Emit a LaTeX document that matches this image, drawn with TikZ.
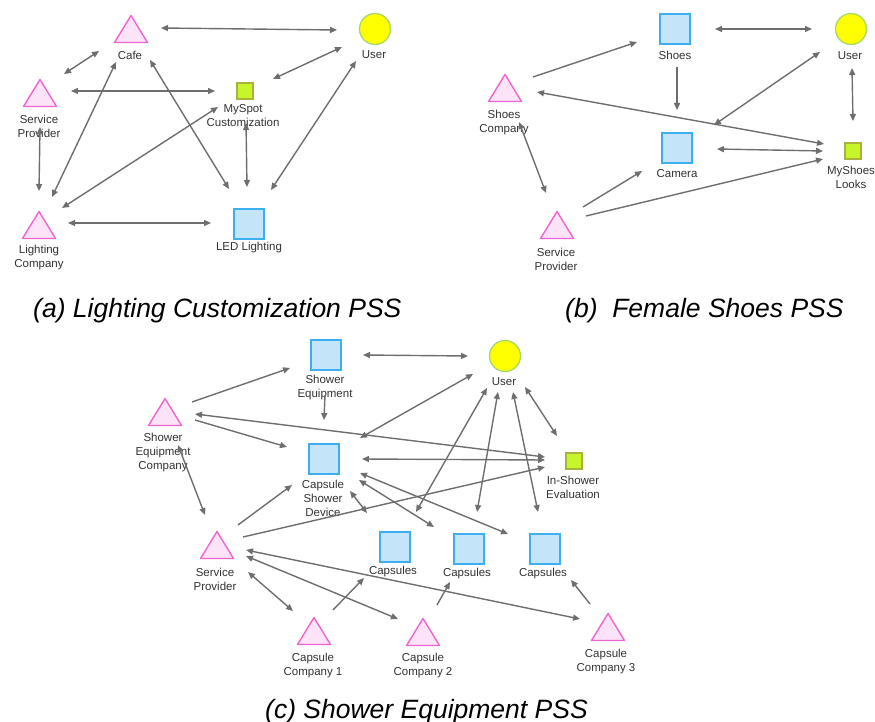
\documentclass[tikz,border=0pt]{standalone}
\usepackage{fontspec}
\setmainfont{Liberation Sans}
\usetikzlibrary{arrows.meta}

\definecolor{linkgray}{HTML}{6E6E6E}
\definecolor{labelgray}{HTML}{333333}
\definecolor{actorfill}{HTML}{FCE3F7}
\definecolor{actorline}{HTML}{F064D2}
\definecolor{prodfill}{HTML}{C4E4FA}
\definecolor{prodline}{HTML}{3DAEEF}
\definecolor{evalfill}{HTML}{C6F52A}
\definecolor{evalline}{HTML}{A9B23A}
\definecolor{userfill}{HTML}{FFFF00}
\definecolor{userline}{HTML}{A8D86A}

\tikzset{
  actor/.style={minimum width=35pt, minimum height=29pt, inner sep=0pt,
    path picture={\draw[draw=actorline, fill=actorfill, line width=1.4pt, line join=round]
      ([shift={(1pt,1pt)}]path picture bounding box.south west) --
      ([shift={(-1pt,1pt)}]path picture bounding box.south east) --
      ([yshift=-1pt]path picture bounding box.north) -- cycle;}},
  product/.style={rectangle, draw=prodline, fill=prodfill, line width=1.5pt,
    minimum size=30pt, inner sep=0pt},
  evalbox/.style={rectangle, draw=evalline, fill=evalfill, line width=1.3pt,
    minimum size=16pt, inner sep=0pt},
  userdot/.style={circle, draw=userline, fill=userfill, line width=1.3pt,
    minimum size=31pt, inner sep=0pt},
  lbl/.style={align=center, inner sep=0pt, text=labelgray,
    font=\fontsize{11.5}{14}\selectfont},
  caption/.style={anchor=base west, inner sep=0pt, text=black,
    font=\fontsize{26.5}{30}\selectfont\itshape},
  link/.style={draw=linkgray, line width=1.4pt,
    arrows={-Triangle[length=7pt,width=6pt]}},
  both/.style={link, arrows={Triangle[length=7pt,width=6pt]-Triangle[length=7pt,width=6pt]}},
}

\begin{document}
\begin{tikzpicture}[x=1pt, y=-1pt]
\useasboundingbox (0,0) rectangle (875,722);

% ---------- (a) Lighting Customization PSS ----------
\node[actor]   (aCafe) at (131,29) {};
\node[actor]   (aSP)   at (40,93)  {};
\node[actor]   (aLC)   at (39,225) {};
\node[evalbox] (aMy)   at (245,91) {};
\node[product] (aLED)  at (249,224) {};
\node[userdot] (aUser) at (375,29) {};

\node[lbl] (aCafeL) at (130,55)  {Cafe};
\node[lbl] (aSPL)   at (39,126)  {Service\\Provider};
\node[lbl] (aLCL)   at (39,258)  {Lighting\\Company};
\node[lbl] (aMyL)   at (243,116) {MySpot\\Customization};
\node[lbl] (aLEDL)  at (249,248) {LED Lighting};
\node[lbl] (aUserL) at (374,55)  {User};

\draw[both] ([shift={(30,-1)}]aCafe.center) -- ([shift={(-38,1)}]aUser.center);
\draw[both] ([shift={(-32,22)}]aCafe.center) -- ([shift={(24,-19)}]aSP.center);
\draw[both] ([shift={(31,-2)}]aSP.center) -- ([shift={(-30,0)}]aMy.center);
\draw[both] ([shift={(0,34)}]aSP.center) -- ([shift={(0,-34)}]aLC.center);
\draw[both] ([shift={(-15,33)}]aCafe.center) -- ([shift={(13,-28)}]aLC.center);
\draw[both] ([shift={(19,31)}]aCafe.center) -- ([shift={(-20,-35)}]aLED.center);
\draw[both] ([shift={(-27,16)}]aMy.center) -- ([shift={(23,-17)}]aLC.center);
\draw[both] ([shift={(1,32)}]aMy.center) -- ([shift={(-2,-37)}]aLED.center);
\draw[both] ([shift={(29,-2)}]aLC.center) -- ([shift={(-38,-1)}]aLED.center);
\draw[both] ([shift={(28,-12)}]aMy.center) -- ([shift={(-33,18)}]aUser.center);
\draw[both] ([shift={(22,-34)}]aLED.center) -- ([shift={(-19,32)}]aUser.center);

\node[caption] (aCap) at (33,317) {(a) Lighting Customization PSS};

% ---------- (b) Female Shoes PSS ----------
\node[product] (bShoes) at (675,29)  {};
\node[userdot] (bUser)  at (851,29)  {};
\node[actor]   (bSC)    at (505,88)  {};
\node[product] (bCam)   at (677,148) {};
\node[evalbox] (bMy)    at (853,151) {};
\node[actor]   (bSP)    at (557,225) {};

\node[lbl] (bShoesL) at (675,55)  {Shoes};
\node[lbl] (bUserL)  at (850,56)  {User};
\node[lbl] (bSCL)    at (504,123) {Shoes\\Company};
\node[lbl] (bCamL)   at (677,174) {Camera};
\node[lbl] (bMyL)    at (851,177) {MyShoes\\Looks};
\node[lbl] (bSPL)    at (556,259) {Service\\Provider};

\draw[link] ([shift={(28,-11)}]bSC.center) -- ([shift={(-38,13)}]bShoes.center);
\draw[both] ([shift={(40,0)}]bShoes.center) -- ([shift={(-39,0)}]bUser.center);
\draw[link] ([shift={(2,38)}]bShoes.center) -- ([shift={(0,-38)}]bCam.center);
\draw[both] ([shift={(-31,23)}]bUser.center) -- ([shift={(37,-23)}]bCam.center);
\draw[both] ([shift={(1,39)}]bUser.center) -- ([shift={(0,-30)}]bMy.center);
\draw[both] ([shift={(32,4)}]bSC.center) -- ([shift={(-29,-7)}]bMy.center);
\draw[both] ([shift={(40,1)}]bCam.center) -- ([shift={(-30,0)}]bMy.center);
\draw[link] ([shift={(26,-18)}]bSP.center) -- ([shift={(-35,23)}]bCam.center);
\draw[link] ([shift={(29,-9)}]bSP.center) -- ([shift={(-30,8)}]bMy.center);
\draw[both] ([shift={(14,34)}]bSC.center) -- ([shift={(-11,-32)}]bSP.center);

\node[caption] (bCap) at (565,317) {(b)\ \ Female Shoes PSS};

% ---------- (c) Shower Equipment PSS ----------
\node[product] (cSE)   at (326,355) {};
\node[actor]   (cSEC)  at (165,412) {};
\node[product] (cCSD)  at (324,459) {};
\node[userdot] (cUser) at (505,356) {};
\node[evalbox] (cISE)  at (574,461) {};
\node[actor]   (cSP)   at (217,545) {};
\node[product] (cC1)   at (395,547) {};
\node[product] (cC2)   at (469,549) {};
\node[product] (cC3)   at (545,549) {};
\node[actor]   (cCC1)  at (314,631) {};
\node[actor]   (cCC2)  at (423,632) {};
\node[actor]   (cCC3)  at (608,627) {};

\node[lbl] (cSEL)   at (325,388) {Shower\\Equipment};
\node[lbl] (cSECL)  at (163,453) {Shower\\Equipment\\Company};
\node[lbl] (cCSDL)  at (323,498) {Capsule\\Shower\\Device};
\node[lbl] (cUserL) at (504,382) {User};
\node[lbl] (cISEL)  at (573,487) {In-Shower\\Evaluation};
\node[lbl] (cSPL)   at (215,579) {Service\\Provider};
\node[lbl] (cC1L)   at (393,572) {Capsules};
\node[lbl] (cC2L)   at (467,574) {Capsules};
\node[lbl] (cC3L)   at (543,574) {Capsules};
\node[lbl] (cCC1L)  at (313,666) {Capsule\\Company 1};
\node[lbl] (cCC2L)  at (423,666) {Capsule\\Company 2};
\node[lbl] (cCC3L)  at (606,662) {Capsule\\Company 3};

\draw[link] ([shift={(27,-10)}]cSEC.center) -- ([shift={(-36,13)}]cSE.center);
\draw[both] ([shift={(37,0)}]cSE.center) -- ([shift={(-37,0)}]cUser.center);
\draw[link] ([shift={(-1,40)}]cSE.center) -- ([shift={(0,-39)}]cCSD.center);
\draw[both] ([shift={(30,2)}]cSEC.center) -- ([shift={(-29,-4)}]cISE.center);
\draw[link] ([shift={(30,8)}]cSEC.center) -- ([shift={(-37,-12)}]cCSD.center);
\draw[both] ([shift={(36,-21)}]cCSD.center) -- ([shift={(-32,18)}]cUser.center);
\draw[both] ([shift={(38,0)}]cCSD.center) -- ([shift={(-29,-1)}]cISE.center);
\draw[link] ([shift={(21,-20)}]cSP.center) -- ([shift={(-32,26)}]cCSD.center);
\draw[link] ([shift={(26,-8)}]cSP.center) -- ([shift={(-29,6)}]cISE.center);
\draw[both] ([shift={(13,33)}]cSEC.center) -- ([shift={(-12,-30)}]cSP.center);
\draw[both] ([shift={(26,32)}]cCSD.center) -- ([shift={(-28,-34)}]cC1.center);
\draw[both] ([shift={(35,21)}]cCSD.center) -- ([shift={(-35,-22)}]cC2.center);
\draw[both] ([shift={(36,14)}]cCSD.center) -- ([shift={(-37,-15)}]cC3.center);
\draw[both] ([shift={(-18,32)}]cUser.center) -- ([shift={(21,-35)}]cC1.center);
\draw[both] ([shift={(-7,36)}]cUser.center) -- ([shift={(8,-37)}]cC2.center);
\draw[both] ([shift={(8,36)}]cUser.center) -- ([shift={(-7,-37)}]cC3.center);
\draw[both] ([shift={(20,31)}]cUser.center) -- ([shift={(-17,-25)}]cISE.center);
\draw[both] ([shift={(29,5)}]cSP.center) -- ([shift={(-28,-8)}]cCC3.center);
\draw[both] ([shift={(29,11)}]cSP.center) -- ([shift={(-25,-13)}]cCC2.center);
\draw[both] ([shift={(31,27)}]cSP.center) -- ([shift={(-21,-20)}]cCC1.center);
\draw[link] ([shift={(19,-21)}]cCC1.center) -- ([shift={(-31,31)}]cC1.center);
\draw[link] ([shift={(14,-27)}]cCC2.center) -- ([shift={(-19,33)}]cC2.center);
\draw[link] ([shift={(-18,-23)}]cCC3.center) -- ([shift={(26,31)}]cC3.center);

\node[caption] (cCap) at (265,718) {(c) Shower Equipment PSS};
\end{tikzpicture}
\end{document}
